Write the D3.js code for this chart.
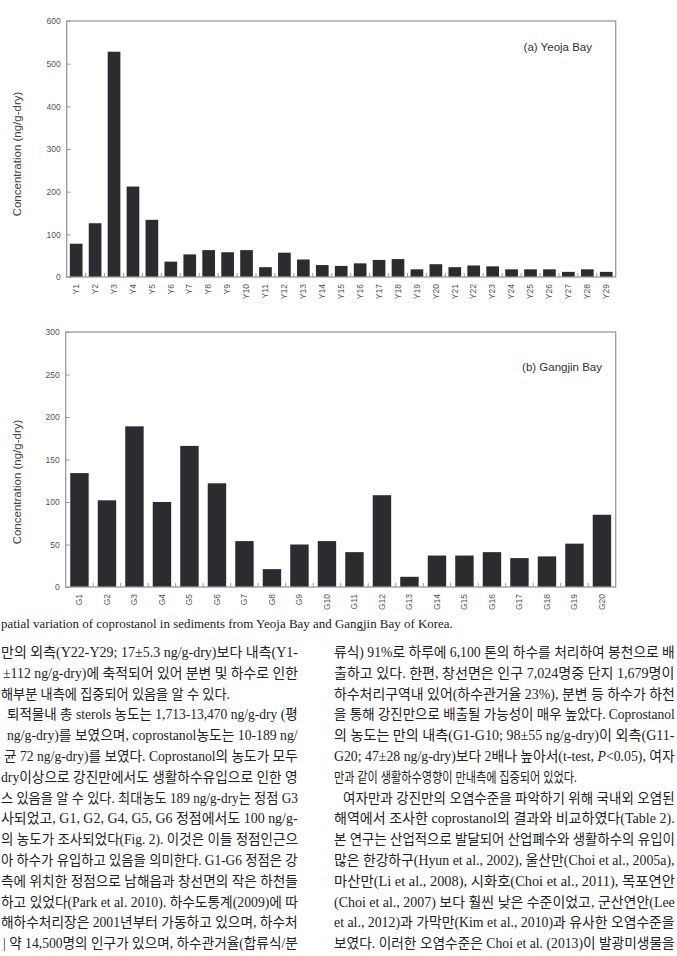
<!DOCTYPE html>
<html>
<head>
<meta charset="utf-8">
<script src="https://cdn.jsdelivr.net/npm/d3@7"></script>
<style>
  body { margin: 0; background: #fff; }
  svg { display: block; }
</style>
</head>
<body>
<div class="container"></div>
<script>
// station names and coprostanol concentrations (ng/g-dry)
const yeojaStations = ["Y1","Y2","Y3","Y4","Y5","Y6","Y7","Y8","Y9","Y10","Y11","Y12","Y13","Y14","Y15",
    "Y16","Y17","Y18","Y19","Y20","Y21","Y22","Y23","Y24","Y25","Y26","Y27","Y28","Y29"];
const yeojaValues = [78,126,528,212,134,36,53,63,58,63,23,57,41,28,26,32,40,42,18,30,23,27,25,18,18,18,12,18,12];
const yeojaTicks = [0,100,200,300,400,500,600];

const gangjinStations = ["G1","G2","G3","G4","G5","G6","G7","G8","G9","G10",
    "G11","G12","G13","G14","G15","G16","G17","G18","G19","G20"];
const gangjinValues = [134,102,189,100,166,122,54,21,50,54,41,108,12,37,37,41,34,36,51,85];
const gangjinTicks = [0,50,100,150,200,250,300];

const captionText = "patial variation of coprostanol in sediments from Yeoja Bay and Gangjin Bay of Korea.";

const leftLines = [
    "만의 외측(Y22-Y29; 17±5.3 ng/g-dry)보다 내측(Y1-",
    "±112 ng/g-dry)에 축적되어 있어 분변 및 하수로 인한",
    "해부분 내측에 집중되어 있음을 알 수 있다.",
    "퇴적물내 총 sterols 농도는 1,713-13,470 ng/g-dry (평",
    "ng/g-dry)를 보였으며, coprostanol농도는 10-189 ng/",
    "균 72 ng/g-dry)를 보였다. Coprostanol의 농도가 모두",
    "dry이상으로 강진만에서도 생활하수유입으로 인한 영",
    "스 있음을 알 수 있다. 최대농도 189 ng/g-dry는 정점 G3",
    "사되었고, G1, G2, G4, G5, G6 정점에서도 100 ng/g-",
    "의 농도가 조사되었다(Fig. 2). 이것은 이들 정점인근으",
    "아 하수가 유입하고 있음을 의미한다. G1-G6 정점은 강",
    "측에 위치한 정점으로 남해읍과 창선면의 작은 하천들",
    "하고 있었다(Park et al. 2010). 하수도통계(2009)에 따",
    "해하수처리장은 2001년부터 가동하고 있으며, 하수처",
    "| 약 14,500명의 인구가 있으며, 하수관거율(합류식/분"
];
const rightLines = [
    "류식) 91%로 하루에 6,100 톤의 하수를 처리하여 봉천으로 배",
    "출하고 있다. 한편, 창선면은 인구 7,024명중 단지 1,679명이",
    "하수처리구역내 있어(하수관거율 23%), 분변 등 하수가 하천",
    "을 통해 강진만으로 배출될 가능성이 매우 높았다. Coprostanol",
    "의 농도는 만의 내측(G1-G10; 98±55 ng/g-dry)이 외측(G11-",
    "G20; 47±28 ng/g-dry)보다 2배나 높아서(t-test, P<0.05), 여자",
    "만과 같이 생활하수영향이 만내측에 집중되어 있었다.",
    "여자만과 강진만의 오염수준을 파악하기 위해 국내외 오염된",
    "해역에서 조사한 coprostanol의 결과와 비교하였다(Table 2).",
    "본 연구는 산업적으로 발달되어 산업폐수와 생활하수의 유입이",
    "많은 한강하구(Hyun et al., 2002), 울산만(Choi et al., 2005a),",
    "마산만(Li et al., 2008), 시화호(Choi et al., 2011), 목포연안",
    "(Choi et al., 2007) 보다 훨씬 낮은 수준이었고, 군산연안(Lee",
    "et al., 2012)과 가막만(Kim et al., 2010)과 유사한 오염수준을",
    "보였다. 이러한 오염수준은 Choi et al. (2013)이 발광미생물을"
];

const svg = d3.select("div.container").append("svg")
    .attr("width", 677)
    .attr("height", 956);

const chartFont = "'Liberation Sans', Arial, sans-serif";
const barColor = "#2c2c30";
const frameColor = "#9a9a9a";

function drawPanel(opt) {
    const x = d3.scaleBand()
        .domain(opt.stations)
        .range([opt.left, opt.right])
        .paddingInner(0.33)
        .paddingOuter(0.165);
    const y = d3.scaleLinear()
        .domain([0, opt.max])
        .range([opt.bottom, opt.top]);

    const g = svg.append("g");

    // bars
    g.selectAll("rect.bar")
        .data(opt.values)
        .join("rect")
        .attr("class", "bar")
        .attr("x", (d, i) => x(opt.stations[i]))
        .attr("y", d => y(d))
        .attr("width", x.bandwidth())
        .attr("height", d => y(0) - y(d))
        .attr("fill", barColor);

    // box round the plot
    g.append("rect")
        .attr("x", opt.left)
        .attr("y", opt.top)
        .attr("width", opt.right - opt.left)
        .attr("height", opt.bottom - opt.top)
        .attr("fill", "none")
        .attr("stroke", frameColor)
        .attr("stroke-width", 1.3);

    // y axis, ticks pointing inward
    const yAxis = g.append("g")
        .attr("transform", `translate(${opt.left},0)`)
        .call(d3.axisLeft(y).tickValues(opt.ticks).tickSize(-4).tickPadding(6));
    yAxis.select(".domain").remove();
    yAxis.selectAll(".tick line").attr("stroke", frameColor);
    yAxis.selectAll(".tick text")
        .attr("fill", "#555")
        .style("font-family", chartFont)
        .style("font-size", "8.5px");

    // station labels, rotated
    const xAxis = g.append("g")
        .attr("transform", `translate(0,${opt.bottom})`)
        .call(d3.axisBottom(x).tickSize(0));
    xAxis.select(".domain").remove();
    xAxis.selectAll(".tick text")
        .attr("transform", "rotate(-90)")
        .attr("x", -7)
        .attr("y", 0)
        .attr("dy", "0.32em")
        .style("text-anchor", "end")
        .attr("fill", "#555")
        .style("font-family", chartFont)
        .style("font-size", "8.5px");

    // small separators between the bars
    const gap = (x.step() - x.bandwidth()) / 2;
    g.selectAll("line.sep")
        .data(opt.stations.slice(1))
        .join("line")
        .attr("class", "sep")
        .attr("x1", d => x(d) - gap)
        .attr("x2", d => x(d) - gap)
        .attr("y1", opt.bottom)
        .attr("y2", opt.bottom - 4)
        .attr("stroke", frameColor)
        .attr("stroke-width", 1);

    // axis title
    g.append("text")
        .attr("transform", `translate(${opt.titleX},${opt.titleY}) rotate(-90)`)
        .attr("dy", "0.35em")
        .style("text-anchor", "middle")
        .style("font-family", chartFont)
        .style("font-size", "11.5px")
        .attr("fill", "#444")
        .text("Concentration (ng/g-dry)");

    // panel name
    g.append("text")
        .attr("x", opt.labelX)
        .attr("y", opt.labelY)
        .style("text-anchor", "end")
        .style("font-family", chartFont)
        .style("font-size", "11.5px")
        .attr("fill", "#333")
        .text(opt.label);
}

drawPanel({
    stations: yeojaStations, values: yeojaValues, ticks: yeojaTicks, max: 600,
    left: 66.7, right: 615.7, top: 21, bottom: 277,
    titleX: 17, titleY: 154, labelX: 592, labelY: 51, label: "(a) Yeoja Bay"
});
drawPanel({
    stations: gangjinStations, values: gangjinValues, ticks: gangjinTicks, max: 300,
    left: 65.7, right: 615.7, top: 332, bottom: 587,
    titleX: 17, titleY: 482, labelX: 602, labelY: 371, label: "(b) Gangjin Bay"
});

// fit a text line into [x0, x1] by squeezing it horizontally
function fitLine(t, x0, x1, y) {
    const w = t.node().getComputedTextLength();
    const sx = (x1 - x0) / w;
    t.attr("x", 0).attr("y", 0)
        .attr("transform", `translate(${x0},${y}) scale(${sx},1)`);
}

// caption
const cap = svg.append("text")
    .style("font-family", "'Liberation Serif', 'Times New Roman', serif")
    .style("font-size", "13px")
    .attr("fill", "#222")
    .text(captionText);
fitLine(cap, 1, 453, 628);

// body text, two justified columns
const bodyFont = "'Liberation Serif', 'Noto Sans CJK KR', serif";
const lineGap = 20.8;
const firstBase = 657;

function drawColumn(lines, startX, endX, starts, ends) {
    lines.forEach((line, i) => {
        const x0 = starts[i] !== undefined ? starts[i] : startX;
        const x1 = ends[i] !== undefined ? ends[i] : endX;
        const t = svg.append("text")
            .style("font-family", bodyFont)
            .style("font-size", "14px")
            .attr("fill", "#222");
        if (line.includes("P<0.05")) {
            const parts = line.split("P<");
            t.append("tspan").text(parts[0]);
            t.append("tspan").style("font-style", "italic").text("P");
            t.append("tspan").text("<" + parts[1]);
        } else {
            t.text(line);
        }
        fitLine(t, x0, x1, firstBase + i * lineGap);
    });
}

drawColumn(leftLines, 1, 298, {1: 3, 3: 7, 4: 7, 5: 4, 14: 3}, {2: 230});
drawColumn(rightLines, 334, 675, {7: 343}, {6: 577});
</script>
</body>
</html>
